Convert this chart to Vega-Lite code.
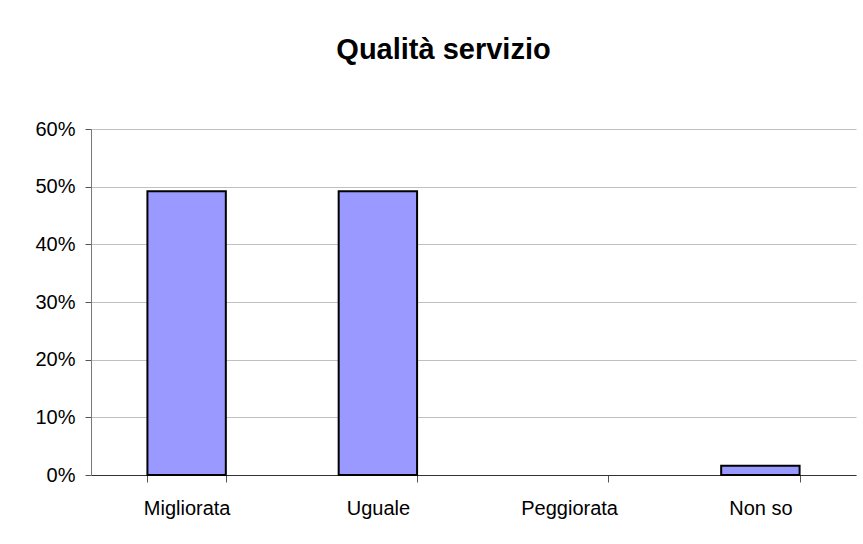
{
  "$schema": "https://vega.github.io/schema/vega-lite/v6.json",
  "width": 765,
  "height": 346,
  "autosize": {"type": "none"},
  "padding": {"left": 91, "top": 129, "right": 7, "bottom": 69},
  "background": "white",
  "title": {
    "text": "Qualità servizio",
    "font": "Liberation Sans",
    "fontSize": 29,
    "fontWeight": "bold",
    "color": "black",
    "anchor": "middle",
    "dx": -30,
    "baseline": "alphabetic",
    "offset": 31
  },
  "config": {
    "view": {"stroke": null},
    "axis": {
      "labelFont": "Liberation Sans",
      "labelFontSize": 20,
      "labelColor": "black"
    }
  },
  "data": {
    "values": [
      {"risposta": "Migliorata", "valore": 0.492},
      {"risposta": "Uguale", "valore": 0.492},
      {"risposta": "Peggiorata", "valore": 0},
      {"risposta": "Non so", "valore": 0.016}
    ]
  },
  "mark": {"type": "bar", "fill": "#9999FF", "stroke": "black", "strokeWidth": 2},
  "encoding": {
    "x": {
      "field": "risposta",
      "type": "nominal",
      "sort": null,
      "title": null,
      "scale": {"paddingInner": 0.59, "paddingOuter": 0.295},
      "axis": {
        "labelAngle": 0,
        "tickBand": "extent",
        "tickSize": 7,
        "tickColor": "#555555",
        "domainColor": "#333333",
        "labelPadding": 16,
        "grid": false
      }
    },
    "y": {
      "field": "valore",
      "type": "quantitative",
      "title": null,
      "scale": {"domain": [0, 0.6], "nice": false},
      "axis": {
        "format": ".0%",
        "values": [0, 0.1, 0.2, 0.3, 0.4, 0.5, 0.6],
        "tickSize": 6,
        "tickColor": "#555555",
        "domainColor": "#777777",
        "labelPadding": 10,
        "grid": true,
        "gridColor": "#c0c0c0",
        "gridWidth": 1
      }
    },
    "strokeOpacity": {
      "condition": {"test": "datum.valore == 0", "value": 0},
      "value": 1
    }
  }
}
